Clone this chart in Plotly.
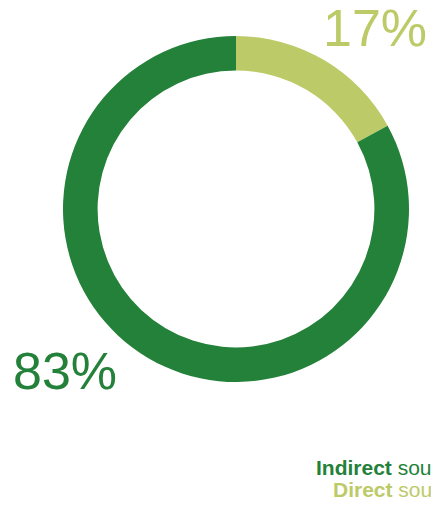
import plotly.graph_objects as go

categories = ["Direct", "Indirect"]
values = [17, 83]
pct_labels = ["17%", "83%"]
colors = ["#bcca68", "#238139"]

W, H = 431, 509


def px(x):
    return x / W


def py(y):
    return 1 - y / H


fig = go.Figure(go.Pie(
    labels=categories,
    values=values,
    hole=0.8,
    sort=False,
    direction="clockwise",
    rotation=0,
    marker=dict(colors=colors, line=dict(width=0)),
    textinfo="none",
    hoverinfo="skip",
    showlegend=False,
    domain=dict(x=[px(63), px(409)], y=[py(382), py(36)]),
))

font = "Liberation Sans, Arial, sans-serif"
# percentage labels
fig.add_annotation(x=px(375), y=py(28), xref="paper", yref="paper",
                   text=pct_labels[0], showarrow=False, xanchor="center", yanchor="middle",
                   font=dict(family=font, size=52, color=colors[0]))
fig.add_annotation(x=px(65), y=py(371), xref="paper", yref="paper",
                   text=pct_labels[1], showarrow=False, xanchor="center", yanchor="middle",
                   font=dict(family=font, size=52, color=colors[1]))
# legend text
fig.add_annotation(x=px(314), y=py(467), xref="paper", yref="paper",
                   text="<b>" + categories[1] + "</b> sources", showarrow=False,
                   xanchor="left", yanchor="middle",
                   font=dict(family=font, size=21, color=colors[1]))
fig.add_annotation(x=px(331), y=py(489), xref="paper", yref="paper",
                   text="<b>" + categories[0] + "</b> sources", showarrow=False,
                   xanchor="left", yanchor="middle",
                   font=dict(family=font, size=21, color=colors[0]))

fig.update_layout(
    width=W, height=H,
    margin=dict(l=0, r=0, t=0, b=0),
    paper_bgcolor="white", plot_bgcolor="white",
)
fig.write_html(
    "out.html",
    config={"displayModeBar": False},
    post_script="document.body.style.margin='0';document.body.style.overflow='hidden';",
)
